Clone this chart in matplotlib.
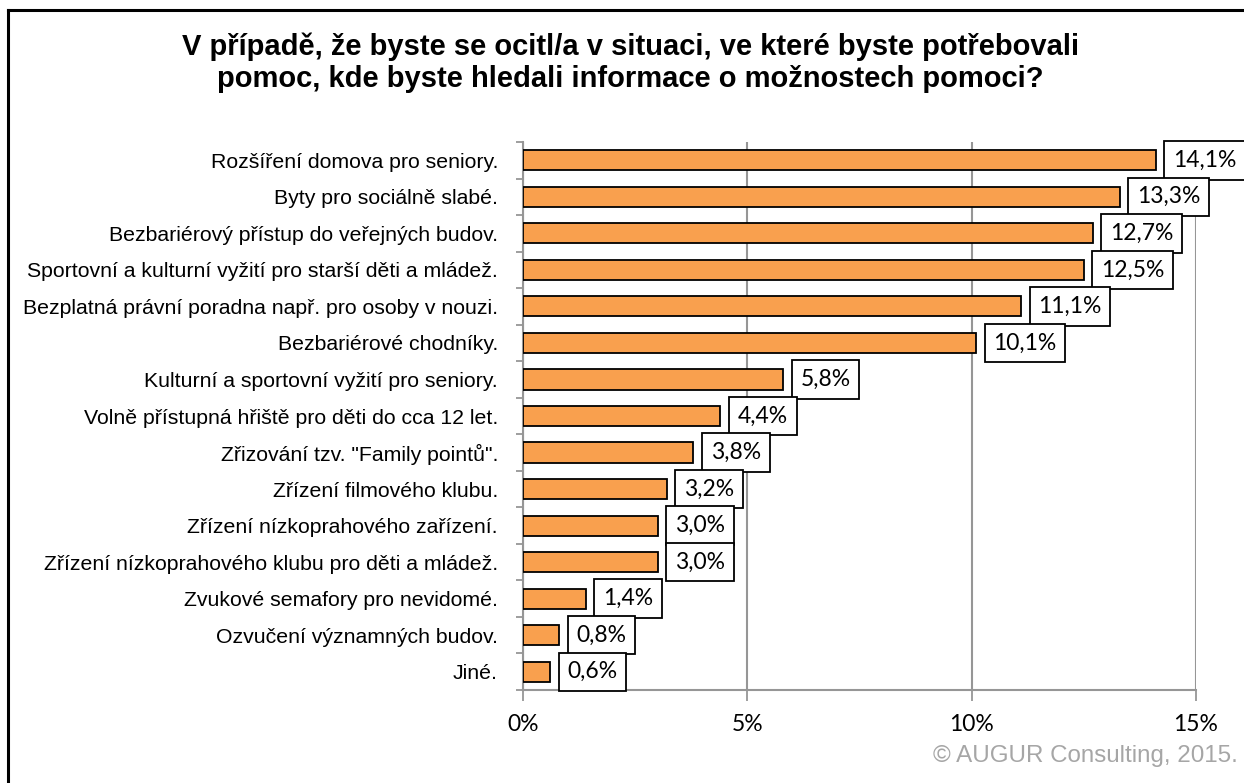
import matplotlib.pyplot as plt
from matplotlib.lines import Line2D
import numpy as np

categories = [
    "Rozšíření domova pro seniory.",
    "Byty pro sociálně slabé.",
    "Bezbariérový přístup do veřejných budov.",
    "Sportovní a kulturní vyžití pro starší děti a mládež.",
    "Bezplatná právní poradna např. pro osoby v nouzi.",
    "Bezbariérové chodníky.",
    "Kulturní a sportovní vyžití pro seniory.",
    "Volně přístupná hřiště pro děti do cca 12 let.",
    "Zřizování tzv. \"Family pointů\".",
    "Zřízení filmového klubu.",
    "Zřízení nízkoprahového zařízení.",
    "Zřízení nízkoprahového klubu pro děti a mládež.",
    "Zvukové semafory pro nevidomé.",
    "Ozvučení významných budov.",
    "Jiné.",
]
values = [14.1, 13.3, 12.7, 12.5, 11.1, 10.1, 5.8, 4.4, 3.8, 3.2, 3.0, 3.0, 1.4, 0.8, 0.6]
xticks = [0, 5, 10, 15]
title = ("V případě, že byste se ocitl/a v situaci, ve které byste potřebovali\n"
         "pomoc, kde byste hledali informace o možnostech pomoci?")

bar_color = "#F9A04E"
grid_color = "#969696"

fig = plt.figure(figsize=(12.44, 7.83), dpi=100)
ax = fig.add_axes([0.4204, 0.1188, 0.5410, 0.6998])

y = np.arange(len(categories))
ax.barh(y, values, height=0.55, color=bar_color, edgecolor="black", linewidth=1.3, zorder=3)
ax.set_ylim(len(categories) - 0.5, -0.5)
ax.set_xlim(0, 15)

for yi, v in zip(y, values):
    ax.annotate(f"{v:.1f}%".replace(".", ","), xy=(v, yi), xytext=(12.5, 0),
                textcoords="offset points", ha="left", va="center",
                fontsize=16.5, family="Lato", zorder=5, annotation_clip=False,
                bbox=dict(boxstyle="square,pad=0.38", fc="white", ec="black", lw=1.3))

ax.set_xticks(xticks)
ax.set_xticklabels([f"{t}%" for t in xticks], family="Lato", fontsize=16.5)
ax.tick_params(axis="x", length=8, width=1.3, color=grid_color, pad=9)
ax.set_yticks(y)
ax.set_yticklabels(categories, family="Liberation Sans", fontsize=15.3)
ax.tick_params(axis="y", length=0, pad=18)
ax.set_yticks(np.arange(len(categories) + 1) - 0.5, minor=True)
ax.tick_params(axis="y", which="minor", length=5, width=1.3, color=grid_color)

ax.grid(axis="x", color=grid_color, linewidth=1.5, zorder=0)
for s in ["top", "right"]:
    ax.spines[s].set_visible(False)
for s in ["left", "bottom"]:
    ax.spines[s].set_color(grid_color)
    ax.spines[s].set_linewidth(1.5)

fig.text(0.507, 0.920, title, ha="center", va="center", fontsize=21,
         fontweight="bold", family="Liberation Sans", linespacing=1.17)
fig.text(0.995, 0.034, "© AUGUR Consulting, 2015.", ha="right", va="center",
         fontsize=17.4, color="#A6A6A6", family="Liberation Sans")

# outer frame (top and left edges visible)
fig.add_artist(Line2D([0.0065, 1.0], [0.987, 0.987], color="black", lw=2.2))
fig.add_artist(Line2D([0.0065, 0.0065], [0.0, 0.987], color="black", lw=2.2))

fig.savefig("out.png", dpi=100)
